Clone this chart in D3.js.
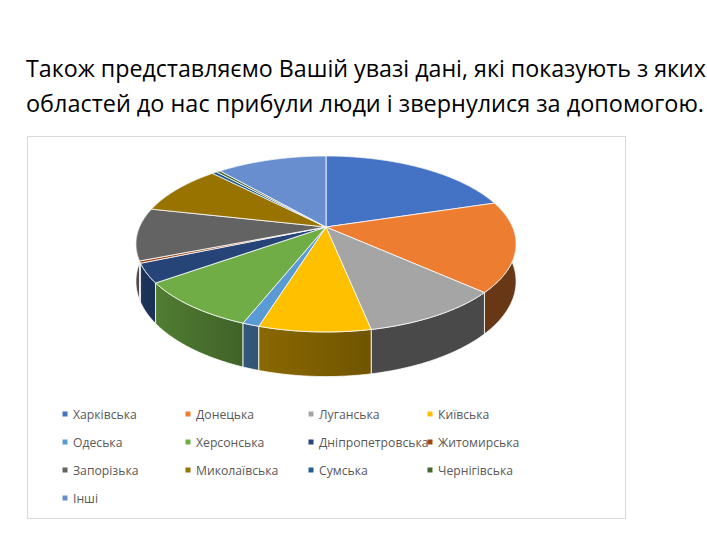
<!DOCTYPE html>
<html>
<head>
<meta charset="utf-8">
<script src="https://cdn.jsdelivr.net/npm/d3@7"></script>
<style>
  body { margin: 0; background: #fff; }
  text { font-family: "Open Sans", "Noto Sans", sans-serif; }
</style>
</head>
<body>
<svg id="viz" width="707" height="553"></svg>
<script>
// regions and their shares (%), clockwise from 12 o'clock
const regions = ['Харківська', 'Донецька', 'Луганська', 'Київська', 'Одеська', 'Херсонська',
  'Дніпропетровська', 'Житомирська', 'Запорізька', 'Миколаївська', 'Сумська', 'Чернігівська', 'Інші']
const shares = [20.2, 16.6, 10.1, 7.9, 1.2, 9.1, 3.5, 0.4, 9.6, 9.3, 0.5, 0.4, 11.3]
const colors = ['#4472C4', '#ED7D31', '#A5A5A5', '#FFC000', '#5B9BD5', '#70AD47',
  '#264478', '#9E480E', '#636363', '#997300', '#255E91', '#43682B', '#698ED0']
const titleLines = ['Також представляємо Вашій увазі дані, які показують з яких',
  'областей до нас прибули люди і звернулися за допомогою.']

let svg = d3.select('#viz')

// title
svg.selectAll('.title')
  .data(titleLines)
  .enter()
  .append('text')
  .attr('x', 26)
  .attr('y', (d, i) => 77 + i * 35)
  .attr('font-size', '23px')
  .attr('fill', '#000')
  .attr('textLength', (d, i) => i == 0 ? 680 : 678)
  .attr('lengthAdjust', 'spacingAndGlyphs')
  .text(d => d)

// chart area
svg.append('rect')
  .attr('x', 27.5).attr('y', 136.5)
  .attr('width', 598).attr('height', 382)
  .attr('fill', '#fff')
  .attr('stroke', '#d9d9d9')

// perspective disc: apex, radii, tilt, thickness
const CX = 326, CY = 227, RX = 186.5, RY = 84.7, A = 0.193, H = 36

const proj = (t, dy) => {
  let u = Math.sin(t), v = -Math.cos(t)
  let w = 1 / (1 - A * v)
  return [CX + RX * u * w, CY + RY * v * w + (dy || 0) * w]
}
const arcPts = (a0, a1, dy) => {
  let n = Math.max(2, Math.ceil((a1 - a0) / 0.008))
  return d3.range(n + 1).map(i => proj(a0 + (a1 - a0) * i / n, dy))
}
// wall lighting: lit from the front left
const shade = (c, t) => {
  let k = 0.44 + 0.35 * Math.max(0, -Math.sin(t))
  let col = d3.rgb(c)
  return d3.rgb(col.r * k, col.g * k, col.b * k).formatHex()
}

let slices = d3.pie().sort(null).value(d => d)(shares)
slices.forEach((s, i) => { s.color = colors[i]; s.name = regions[i] })

let line = d3.line()
let defs = svg.append('defs')

// side walls, front-most drawn last
let wallOrder = slices.slice().sort((a, b) => {
  let da = Math.abs((a.startAngle + a.endAngle) / 2 - Math.PI)
  let db = Math.abs((b.startAngle + b.endAngle) / 2 - Math.PI)
  return db - da
})

wallOrder.forEach(s => {
  let id = 'wall' + s.index
  let x0 = proj(s.startAngle)[0], x1 = proj(s.endAngle)[0]
  let g = defs.append('linearGradient')
    .attr('id', id)
    .attr('gradientUnits', 'userSpaceOnUse')
    .attr('x1', x0).attr('x2', x1 == x0 ? x0 + 1 : x1)
    .attr('y1', 0).attr('y2', 0)
  g.append('stop').attr('offset', 0).attr('stop-color', shade(s.color, s.startAngle))
  g.append('stop').attr('offset', 1).attr('stop-color', shade(s.color, s.endAngle))

  let top = arcPts(s.startAngle, s.endAngle, 0)
  let bottom = arcPts(s.startAngle, s.endAngle, H).reverse()
  svg.append('path')
    .attr('d', line(top.concat(bottom)) + 'Z')
    .attr('fill', 'url(#' + id + ')')
    .attr('stroke', '#fff')
    .attr('stroke-width', 0.8)
    .attr('stroke-linejoin', 'round')
})

// top faces
svg.selectAll('.top')
  .data(slices)
  .enter()
  .append('path')
  .attr('class', 'top')
  .attr('d', s => line([[CX, CY]].concat(arcPts(s.startAngle, s.endAngle, 0))) + 'Z')
  .attr('fill', s => s.color)
  .attr('stroke', '#fff')
  .attr('stroke-width', 0.8)
  .attr('stroke-linejoin', 'round')

// legend
const legendX = [65, 188, 311, 430]
const legendY = d3.scaleLinear().domain([0, 1]).range([414, 442])

let legend = svg.selectAll('.legend')
  .data(slices)
  .enter()
  .append('g')
  .attr('class', 'legend')
  .attr('transform', (d, i) => `translate(${legendX[i % 4]},${legendY(Math.floor(i / 4))})`)

legend.append('rect')
  .attr('x', -2.5).attr('y', -2.5)
  .attr('width', 5).attr('height', 5)
  .attr('fill', d => d.color)

legend.append('text')
  .attr('x', 8)
  .attr('y', 4.5)
  .attr('font-size', '12.2px')
  .attr('fill', '#595959')
  .text(d => d.name)
</script>
</body>
</html>
